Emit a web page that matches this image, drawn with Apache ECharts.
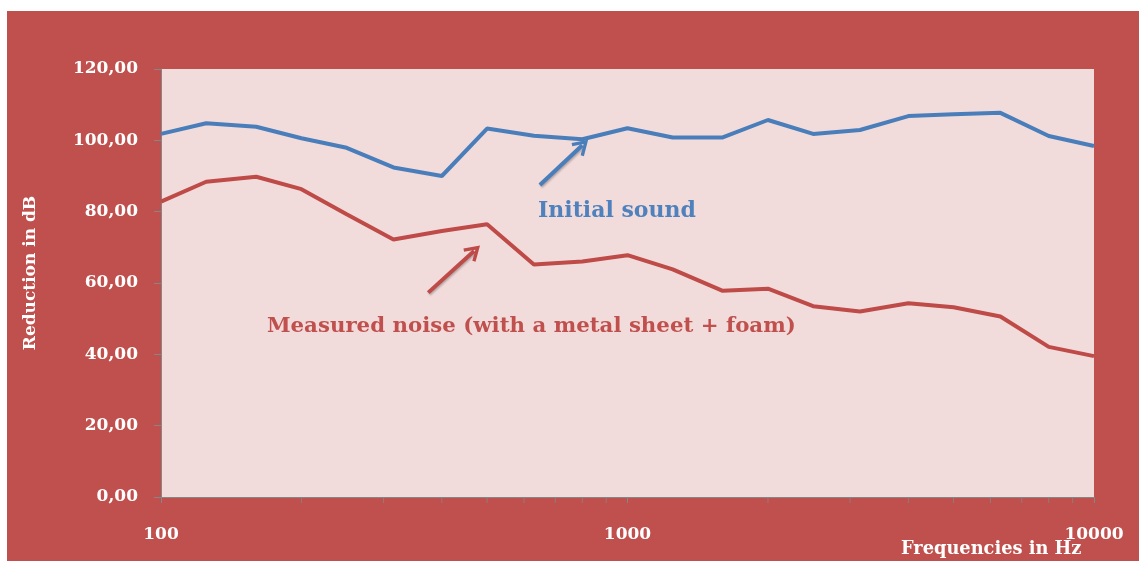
<!DOCTYPE html>
<html>
<head>
<meta charset="utf-8">
<script src="https://cdn.jsdelivr.net/npm/echarts@6/dist/echarts.min.js"></script>
<style>
html,body{margin:0;padding:0;background:#ffffff;}
#chart{width:1139px;height:561px;}
</style>
</head>
<body>
<div id="chart"></div>
<script>
// Third-octave band centre frequencies (Hz)
var frequencies = [100, 125, 160, 200, 250, 315, 400, 500, 630, 800, 1000, 1250, 1600, 2000, 2500, 3150, 4000, 5000, 6300, 8000, 10000];
// Initial sound (dB)
var initialSound = [101.8, 104.8, 103.8, 100.6, 97.9, 92.4, 90.0, 103.3, 101.3, 100.3, 103.4, 100.8, 100.8, 105.7, 101.8, 102.9, 106.8, 107.3, 107.7, 101.2, 98.4];
// Measured noise with metal sheet + foam (dB)
var measuredNoise = [82.8, 88.4, 89.8, 86.3, 79.3, 72.2, 74.6, 76.5, 65.2, 66.0, 67.8, 63.8, 57.8, 58.4, 53.5, 52.0, 54.3, 53.2, 50.6, 42.1, 39.5];
// Minor tick positions on the log axis
var minorTicks = [200, 300, 400, 500, 600, 700, 800, 900, 2000, 3000, 4000, 5000, 6000, 7000, 8000, 9000];
// Annotation arrows [fromX, fromY, toX, toY] in data space
var blueArrow = [649, 87.5, 800, 98.6];
var redArrow = [374, 57.3, 469, 69.0];
// Axis
var yMin = 0, yMax = 120, yStep = 20;

var fontFam = '"DejaVu Serif", "Liberation Serif", serif';
var chevron = 'path://M0,16 L10,0 L20,16 L16.8,18 L10,7 L3.2,18 Z';

function arrowLine(a, color) {
  return {
    silent: true,
    animation: false,
    symbol: ['none', chevron],
    symbolSize: [18, 16],
    label: {show: false},
    lineStyle: {color: color, width: 4, type: 'solid',
      shadowBlur: 2, shadowColor: 'rgba(0,0,0,0.25)', shadowOffsetX: 1, shadowOffsetY: 1.5},
    data: [[{coord: [a[0], a[1]]}, {coord: [a[2], a[3]]}]]
  };
}

var chart = echarts.init(document.getElementById('chart'), null, {renderer: 'canvas'});
var option = {
  animation: false,
  backgroundColor: '#ffffff',
  graphic: [
    {type: 'rect', z: -10, silent: true, shape: {x: 7, y: 11, width: 1132, height: 550}, style: {fill: '#c0504d'}},
    {type: 'text', z: 10, left: 538, top: 200, style: {text: 'Initial sound', fill: '#4f81bd', font: 'bold 22px ' + fontFam}},
    {type: 'text', z: 10, left: 267, top: 316, style: {text: 'Measured noise (with a metal sheet + foam)', fill: '#c0504d', font: 'bold 21.3px ' + fontFam}},
    {type: 'text', z: 10, x: 31, y: 273, rotation: Math.PI / 2, style: {text: 'Reduction in dB', fill: '#ffffff', font: 'bold 17px ' + fontFam, align: 'center', verticalAlign: 'middle'}},
    {type: 'text', z: 10, left: 901, top: 540, style: {text: 'Frequencies in Hz', fill: '#ffffff', font: 'bold 17.8px ' + fontFam}}
  ],
  grid: {left: 161, right: 45, top: 69, bottom: 64, show: true, backgroundColor: '#f2dcdb', borderWidth: 0, containLabel: false},
  xAxis: {
    type: 'log', logBase: 10, min: 100, max: 10000,
    axisLine: {show: true, lineStyle: {color: '#868686', width: 1}},
    axisTick: {show: true, inside: false, length: 6, lineStyle: {color: '#868686'}},
    splitLine: {show: false},
    axisLabel: {color: '#ffffff', fontFamily: fontFam, fontWeight: 'bold', fontSize: 17, margin: 29,
      formatter: function (v) { return String(Math.round(v)); }}
  },
  yAxis: {
    type: 'value', min: yMin, max: yMax, interval: yStep,
    axisLine: {show: true, lineStyle: {color: '#868686', width: 1}},
    axisTick: {show: true, inside: false, length: 7, lineStyle: {color: '#868686'}},
    splitLine: {show: false},
    axisLabel: {color: '#ffffff', fontFamily: fontFam, fontWeight: 'bold', fontSize: 17, margin: 23,
      formatter: function (v) { return v.toFixed(2).replace('.', ','); }}
  },
  series: [
    {
      name: 'Initial sound', type: 'line', symbol: 'none', z: 3,
      lineStyle: {color: '#4a7ebb', width: 4},
      itemStyle: {color: '#4a7ebb'},
      data: frequencies.map(function (f, i) { return [f, initialSound[i]]; }),
      markLine: arrowLine(blueArrow, '#4a7ebb')
    },
    {
      name: 'Measured noise', type: 'line', symbol: 'none', z: 3,
      lineStyle: {color: '#be4b48', width: 4},
      itemStyle: {color: '#be4b48'},
      data: frequencies.map(function (f, i) { return [f, measuredNoise[i]]; }),
      markLine: arrowLine(redArrow, '#be4b48')
    },
    {
      name: 'minor ticks', type: 'scatter', silent: true, clip: false, z: 5,
      symbol: 'rect', symbolSize: [1, 6], symbolOffset: [0, 3],
      itemStyle: {color: '#868686'},
      data: minorTicks.map(function (f) { return [f, yMin]; })
    }
  ]
};
chart.setOption(option);
</script>
</body>
</html>
